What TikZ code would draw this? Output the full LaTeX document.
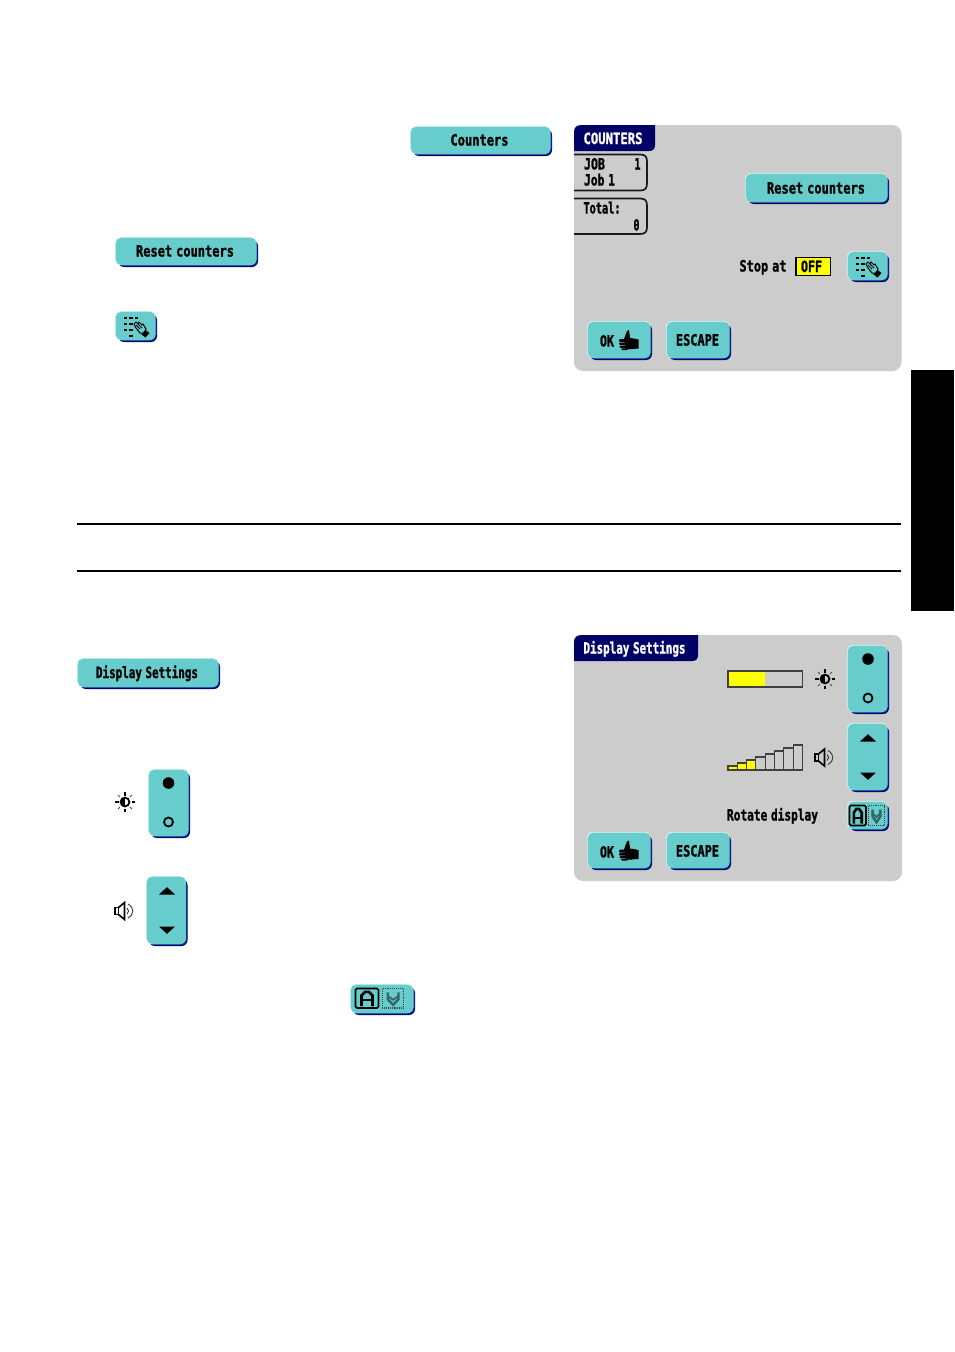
\documentclass[tikz,border=0pt]{standalone}
\usepackage{fontspec}
\usepackage{graphicx}
\newfontfamily\uifont[WordSpace=0.55,BoldFeatures={FakeBold=1.6}]{DejaVu Sans Mono}
\definecolor{teal1}{HTML}{66CCCC}
\definecolor{navy1}{HTML}{000066}
\definecolor{edge1}{HTML}{00339A}
\definecolor{panel1}{HTML}{CCCCCC}
\definecolor{high1}{HTML}{E6F7F7}
\definecolor{yel1}{HTML}{FFFF00}
\tikzset{
  uitext/.style={inner sep=0pt,outer sep=0pt,anchor=base,text=black,font=\uifont\bfseries\fontsize{15.5}{16}\selectfont},
  rulerline/.style={line width=1.6pt,black},
  barline/.style={draw=black!75,line width=1.1pt}
}
% button: x0 y0 x1 y1
\newcommand\uibtn[4]{%
  \fill[navy1,rounded corners=6pt] ({#1+3},{#2+3}) rectangle (#3,#4);
  \fill[edge1,rounded corners=6pt] ({#1+3},{#2+3}) rectangle ({#3-0.5},{#4-1});
  \fill[high1,rounded corners=6pt] (#1,#2) rectangle ({#3-1.6},{#4-2});
  \fill[teal1,rounded corners=5.5pt] ({#1+0.7},{#2+0.7}) rectangle ({#3-1.6},{#4-2});
}
% label: name cx cy width text
\newcommand\uilbl[5]{\node[uitext] (#1) at (#2,{#3+5.5}) {\resizebox{#4pt}{\height}{#5}};}
\newcommand\uiwhite[5]{\node[uitext,text=white] (#1) at (#2,{#3+5.5}) {\resizebox{#4pt}{\height}{#5}};}
% panel tab: x1 y0
\newcommand\uitab[2]{%
  \fill[navy1] (574,{#2+26}) -- (574,{#2+7}) .. controls (574,{#2+2}) and (577,#2) .. (582,#2) -- (#1,#2) -- (#1,{#2+20}) .. controls (#1,{#2+24}) and ({#1-2},{#2+26}) .. ({#1-6},{#2+26}) -- cycle;
}
% info box: y0 y1
\newcommand\uibox[2]{%
  \draw[black!90,line width=1.7pt] (574,#1) -- (640,#1) .. controls (645,#1) and (647,{#1+2}) .. (647,{#1+7}) -- (647,{#2-7}) .. controls (647,{#2-2}) and (645,#2) .. (640,#2) -- (574,#2);
}
\newcommand\sunicon[2]{%
  \begin{scope}[shift={(#1,#2)}]
    \foreach \a in {0,90,180,270} \draw[black,line width=1.1pt] (\a:6.5) -- (\a:10);
    \foreach \a in {45,135,225,315} \draw[black!70,line width=1pt] (\a:7.2) -- (\a:9.8);
    \draw[black,line width=1.8pt] (0,0) circle (4.4);
    \fill[black] (0,-4.6) -- (0,4.6) .. controls (-6,4.6) and (-6,-4.6) .. (0,-4.6) -- cycle;
  \end{scope}}
\newcommand\spkicon[2]{%
  \begin{scope}[shift={(#1,#2)}]
    \draw[black,line width=1.6pt] (-9,-3.5) rectangle (-5.5,3.5);
    \draw[black,line width=1.6pt] (-5.5,-3.5) -- (0.5,-8.5) -- (0.5,8.5) -- (-5.5,3.5);
    \draw[black!80,line width=0.9pt] (3,-3) .. controls (5.2,-1.5) and (5.2,1.5) .. (3,3);
    \draw[black!75,line width=1pt] (4,-7) .. controls (10.5,-3) and (10.5,3) .. (4,7);
  \end{scope}}
\newcommand\padicon[2]{%
  \begin{scope}[shift={(#1,#2)}]
    \foreach \cx/\cy in {10.5/7,16/7,21.5/7,10.5/13,16/13,10.5/19,16/19,16/25}
      \fill[black] ({\cx-1.7},{\cy-1.4}) rectangle ({\cx+1.7},{\cy+1.4});
    \draw[black,line width=1pt,fill=teal1] (19,13) -- (21,11) -- (23,13) -- (24,11) -- (27,14) -- (28,13) -- (31,18) -- (29,22) -- (25,22) -- (21,17) -- cycle;
    \draw[black,line width=0.8pt] (21,14) -- (25,18) (23,13) -- (27,17);
    \fill[black] (26.5,23.5) -- (30.5,19) -- (34.5,22) -- (30.5,26.5) -- cycle;
  \end{scope}}
\newcommand\thumbicon[2]{%
  \begin{scope}[shift={(#1,#2)}]
    \fill[black] (12,8) -- (19.5,9.5) -- (19.5,18.5) -- (12,19) -- cycle;
    \fill[black] (5,9) -- (8,1) -- (10,0) -- (10.5,4) -- (11,8) -- (13,9) -- (13,19) -- (7,19) -- cycle;
    \fill[black,rounded corners=1pt] (0,9) rectangle (8,12);
    \fill[black,rounded corners=1pt] (0,12.6) rectangle (8,15);
    \fill[black,rounded corners=1pt] (0.5,15.6) rectangle (8,17.8);
    \fill[black,rounded corners=1pt] (2,18.3) rectangle (9,20);
  \end{scope}}
% rotate button icons: x0 y0 boxwidth boxheight
\newcommand\rotA[4]{%
  \begin{scope}[shift={(#1,#2)},x=#3pt,y=-#4pt]
    \draw[black,line width=1.6pt,rounded corners=1.5pt] (0,0) rectangle (1,1);
    \draw[black,line width=2.6pt] (0.26,0.9) -- (0.26,0.36) -- (0.42,0.17) -- (0.58,0.17) -- (0.74,0.36) -- (0.74,0.9);
    \draw[black,line width=2pt] (0.26,0.6) -- (0.74,0.6);
    \draw[black!75,line width=1.1pt,densely dotted] (1.17,0) rectangle (2.1,1);
    \draw[black!50!teal1,line width=2.4pt] (1.4,0.2) -- (1.4,0.55) -- (1.635,0.84) -- (1.87,0.55) -- (1.87,0.2);
    \draw[black!50!teal1,line width=1.8pt] (1.4,0.38) -- (1.635,0.58) -- (1.87,0.38);
  \end{scope}}
\newcommand\dotsbtn[3]{%
  \fill[black] (#1,#2) circle (5.8);
  \draw[black,line width=1.8pt] (#1,#3) circle (4.5);}
\newcommand\tribtn[3]{%
  \fill[black] ({#1-8},{#2+3.5}) -- ({#1+8},{#2+3.5}) -- (#1,{#2-3.8}) -- cycle;
  \fill[black] ({#1-8},{#3-3.5}) -- ({#1+8},{#3-3.5}) -- (#1,{#3+3.8}) -- cycle;}
\begin{document}
\begin{tikzpicture}[x=1pt,y=-1pt]
\useasboundingbox (0,0) rectangle (954,1352);
\fill[white] (0,0) rectangle (954,1352);
% side tab and rules
\fill[black] (911,370) rectangle (953.5,611);
\draw[rulerline] (77,524) -- (901,524);
\draw[rulerline] (77,571) -- (901,571);
% left column, upper
\uibtn{410}{126}{552}{156}
\uilbl{tCounters}{479.5}{140}{58}{Counters}
\uibtn{115}{237}{258}{267}
\uilbl{tResetA}{185}{251}{98}{Reset counters}
\uibtn{115}{311}{157}{342}
\padicon{115}{311}
% panel 1
\fill[panel1,rounded corners=9pt] (574,125) rectangle (901.5,371);
\uitab{655}{125}
\uiwhite{tTitleA}{613}{138.5}{59}{COUNTERS}
\uibox{154.5}{190.5}
\uibox{198.5}{234}
\uilbl{tJob}{594.5}{164}{21}{JOB}
\uilbl{tJobNo}{637.5}{164}{6}{1}
\uilbl{tJobOne}{599.5}{180}{31}{Job 1}
\uilbl{tTotal}{602}{208}{37}{Total:}
\uilbl{tZero}{636.5}{225}{6}{0}
\uibtn{745}{173}{889}{204}
\uilbl{tResetB}{816}{188}{98}{Reset counters}
\uilbl{tStop}{763}{266}{47}{Stop at}
\draw[black,fill=yel1,line width=1.5pt] (796,257.5) rectangle (830.5,275.5);
\uilbl{tOff}{811.5}{266.5}{21}{OFF}
\uibtn{847}{251}{889}{282}
\padicon{847}{251}
\uibtn{587}{321}{652}{360}
\uilbl{tOkA}{607}{341}{14}{OK}
\thumbicon{619}{330}
\uibtn{666}{321}{731}{360}
\uilbl{tEscA}{697.5}{340}{43}{ESCAPE}
% left column, lower
\uibtn{77}{658}{220}{689}
\uilbl{tDispA}{147}{672.5}{102}{Display Settings}
\sunicon{125}{802}
\uibtn{148}{769}{190}{838}
\dotsbtn{168.5}{783}{822}
\spkicon{124}{911}
\uibtn{146}{876}{187.5}{946}
\tribtn{167}{891}{930}
\uibtn{350}{984}{415}{1015}
\rotA{355.5}{988.5}{23}{19.5}
% panel 2
\fill[panel1,rounded corners=9pt] (574,635) rectangle (902,881);
\uitab{698}{635}
\uiwhite{tTitleB}{634.5}{648}{102}{Display Settings}
\fill[yel1] (728,671) rectangle (765,687);
\draw[barline] (728,671) rectangle (802.5,687);
\sunicon{825}{679}
\uibtn{847}{645}{889}{714}
\dotsbtn{868}{659}{698}
% staircase
\fill[yel1] (728,766) rectangle (737.3,770);
\fill[yel1] (737.3,763) rectangle (746.6,770);
\fill[yel1] (746.6,760) rectangle (755.9,770);
\foreach \i/\t in {0/766,1/763,2/760,3/757,4/754,5/751,6/748,7/745}
  \draw[barline] ({728+\i*9.3},770) rectangle ({737.3+\i*9.3},\t);
\spkicon{824}{757.5}
\uibtn{847}{723}{889}{792}
\tribtn{868}{738}{776}
\uilbl{tRotate}{772.5}{815}{91}{Rotate display}
\uibtn{847}{801}{889}{831}
\rotA{849.5}{805.5}{16.5}{20}
\uibtn{587}{832}{652}{870}
\uilbl{tOkB}{607}{852}{14}{OK}
\thumbicon{619}{840.5}
\uibtn{666}{832}{731}{870}
\uilbl{tEscB}{697.5}{851}{43}{ESCAPE}
\end{tikzpicture}
\end{document}
